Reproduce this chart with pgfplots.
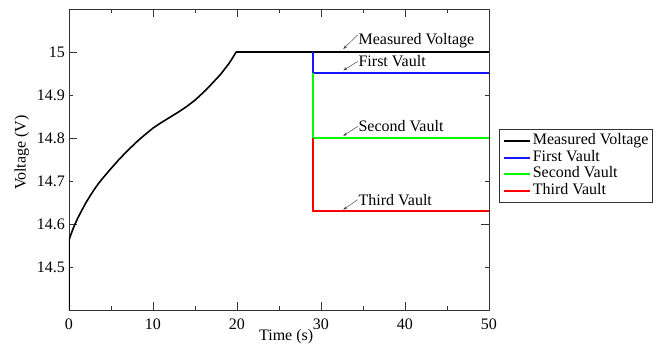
\documentclass[border=0pt]{standalone}
\usepackage{fontspec}
\setmainfont{Liberation Serif}
\usepackage{pgfplots}
\pgfplotsset{compat=1.18}
\usetikzlibrary{arrows.meta}
\definecolor{vblue}{RGB}{20,20,255}
\definecolor{vgreen}{RGB}{0,255,0}
\definecolor{vred}{RGB}{255,0,0}

\begin{document}
\begin{tikzpicture}
\useasboundingbox (-69pt,-37pt) rectangle (588pt,310pt);
\begin{axis}[
  at={(0pt,0pt)}, anchor=south west,
  scale only axis, width=420pt, height=301pt,
  xmin=0, xmax=50, ymin=14.4, ymax=15.1,
  xtick={0,10,...,50}, minor x tick num=1,
  ytick={14.6,14.8,15}, extra y ticks={14.5,14.7,14.9},
  extra tick style={major tick length=4pt},
  tick align=inside, major tick length=8pt, minor tick length=4pt,
  axis line style={draw=black!80, line width=0.8pt},
  every tick/.style={draw=black!80, line width=0.8pt},
  /pgf/number format/assume math mode=true,
  ticklabel style={font=\fontsize{16}{19}\selectfont},
  xticklabel style={anchor=north, inner sep=0pt, yshift=-9pt},
  yticklabel style={anchor=east, inner sep=0pt, xshift=-4pt},
  xlabel={Time (s)},
  ylabel={Voltage (V)},
  label style={font=\fontsize{16}{19}\selectfont},
  xlabel style={at={(axis description cs:0.517,0)}, anchor=north, inner sep=0pt, yshift=-19pt},
  ylabel style={at={(axis description cs:-0.1126,0.523)}, anchor=center, inner sep=0pt},
  legend style={at={(1.0238,0.6013)}, anchor=north west, draw=black!80, line width=0.6pt,
    inner sep=3.5pt, font=\fontsize{16}{17}\selectfont, row sep=0pt,
    cells={anchor=west}, nodes={inner sep=0pt, text height=12pt, text depth=4.5pt},
    /tikz/every odd column/.style={column sep=2pt}},
  legend image code/.code={\draw[#1] (0pt,0pt) -- (26pt,0pt);},
]
% measured voltage curve (charging part)
\addplot[black, line width=1.6pt, forget plot] coordinates {(0,14.40) (0,14.563)};
\addplot[black, line width=1.6pt, line join=round, forget plot] coordinates {
(0,14.563) (0.5,14.590) (1.0,14.612) (1.5,14.631) (2.0,14.649) (2.5,14.665)
(3.0,14.680) (3.5,14.694) (4.0,14.706) (5.0,14.729) (6.0,14.751) (7.0,14.771)
(8.0,14.790) (9.0,14.807) (10.0,14.823) (11.0,14.836) (12.0,14.848) (13.0,14.860)
(14.0,14.873) (15.0,14.888) (16.0,14.906) (17.0,14.926) (18.0,14.947) (19.0,14.972)
(19.5,14.987) (19.9,15.0)};
\addplot[black, line width=1.6pt] coordinates {(19.9,15.0) (50,15.0)};
\addlegendentry{Measured Voltage}
\addplot[vblue, line width=2pt] coordinates {(29,15.0) (29,14.95) (50,14.95)};
\addlegendentry{First Vault}
\addplot[vgreen, line width=2pt] coordinates {(29,14.95) (29,14.80) (50,14.80)};
\addlegendentry{Second Vault}
\addplot[vred, line width=2pt] coordinates {(29,14.80) (29,14.63) (50,14.63)};
\addlegendentry{Third Vault}

\tikzset{ann/.style={-{Stealth[length=4pt,width=3pt]}, black!70, line width=0.5pt},
  anntext/.style={anchor=base west, inner sep=0pt, font=\fontsize{16}{19}\selectfont}}
\draw[ann] (axis cs:34.37,15.040) -- (axis cs:32.65,15.007);
\node[anntext] at (axis cs:34.45,15.017) {Measured Voltage};
\draw[ann] (axis cs:34.37,14.978) -- (axis cs:32.65,14.957);
\node[anntext] at (axis cs:34.45,14.9665) {First Vault};
\draw[ann] (axis cs:34.37,14.827) -- (axis cs:32.65,14.805);
\node[anntext] at (axis cs:34.45,14.8153) {Second Vault};
\draw[ann] (axis cs:34.37,14.6565) -- (axis cs:32.65,14.6333);
\node[anntext] at (axis cs:34.45,14.6433) {Third Vault};
\end{axis}
\end{tikzpicture}
\end{document}
